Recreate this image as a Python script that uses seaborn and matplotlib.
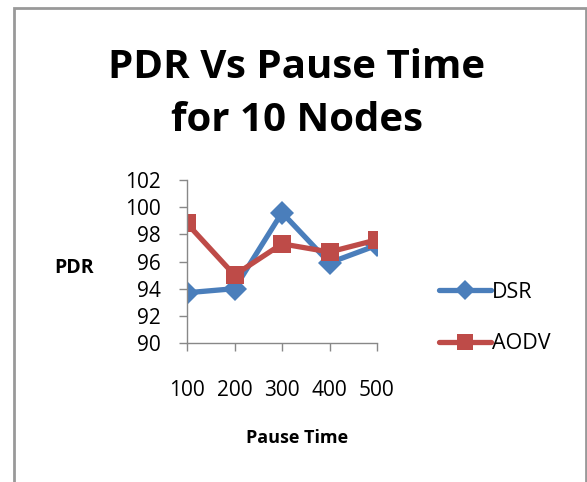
import matplotlib
matplotlib.use('Agg')
import matplotlib.pyplot as plt
from matplotlib.patches import Rectangle
import seaborn as sns
import pandas as pd

# Data
pause_time = [100, 200, 300, 400, 500]
dsr = [93.7, 94.0, 99.6, 95.9, 97.2]
aodv = [98.8, 95.0, 97.3, 96.7, 97.6]

df = pd.DataFrame({
    'Pause Time': pause_time * 2,
    'PDR': dsr + aodv,
    'Protocol': ['DSR'] * 5 + ['AODV'] * 5,
})

sns.set_style('white')
plt.rcParams['font.family'] = ['Open Sans', 'DejaVu Sans']
plt.rcParams['text.color'] = 'black'

fig = plt.figure(figsize=(5.87, 4.82), dpi=100)
ax = fig.add_axes([187 / 587, 1 - 343 / 482, (377 - 187) / 587, (343 - 180) / 482])

palette = {'DSR': '#4A7EBB', 'AODV': '#BE4B48'}
sns.lineplot(data=df[df.Protocol == 'DSR'], x='Pause Time', y='PDR', color=palette['DSR'],
             marker='D', linewidth=3.8, markersize=12, markeredgewidth=0, label='DSR', ax=ax)
sns.lineplot(data=df[df.Protocol == 'AODV'], x='Pause Time', y='PDR', color=palette['AODV'],
             marker='s', linewidth=3.8, markersize=13, markeredgewidth=0, label='AODV', ax=ax)

ax.set_xlim(100, 500)
ax.set_ylim(90, 102)
ax.set_yticks(range(90, 103, 2))
ax.set_xticks(pause_time)
ax.tick_params(axis='both', labelsize=15, length=6, width=1, color='#888888',
               labelcolor='black', direction='out', left=True, bottom=True)
ax.tick_params(axis='x', pad=21)
ax.tick_params(axis='y', pad=13)
for s in ['top', 'right']:
    ax.spines[s].set_visible(False)
for s in ['left', 'bottom']:
    ax.spines[s].set_color('#888888')
    ax.spines[s].set_linewidth(1)

ax.set_xlabel('')
ax.set_ylabel('')
fig.text(297 / 587, 1 - 438 / 482, 'Pause Time', fontsize=13, fontweight='bold',
         ha='center', va='center')
fig.text(74 / 587, 1 - 268 / 482, 'PDR', fontsize=14, fontweight='bold',
         ha='center', va='center')
fig.text(297 / 587, 1 - 94 / 482, 'PDR Vs Pause Time\nfor 10 Nodes', fontsize=29,
         fontweight='bold', ha='center', va='center', linespacing=1.45)

handles, labels = ax.get_legend_handles_labels()
ax.legend(handles, labels, loc='center left', bbox_to_anchor=(420 / 587, 1 - 318 / 482),
          bbox_transform=fig.transFigure, frameon=False, fontsize=15.5,
          labelspacing=1.4, handlelength=2.4, handletextpad=0.05, markerscale=0.85)

fig.patches.append(Rectangle((14 / 587, -0.05), 572 / 587, 1.05 - 8 / 482,
                             transform=fig.transFigure, fill=False,
                             edgecolor='#999999', linewidth=2))

fig.savefig('out.png', dpi=100)
